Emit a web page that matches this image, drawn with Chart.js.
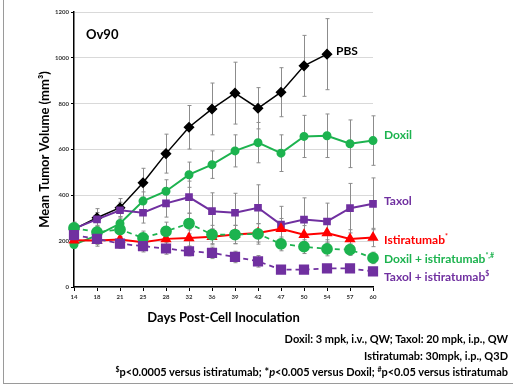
<!DOCTYPE html>
<html lang="en">
<head>
  <meta charset="UTF-8">
  <title>Ov90 tumor volume</title>
  <script src="https://cdn.jsdelivr.net/npm/chart.js"></script>
  <style>
    body { margin: 0; background: #fff; }
    .slide {
      position: relative;
      width: 513px;
      height: 386px;
      font-family: Lato, "Open Sans", sans-serif;
      font-weight: bold;
    }
    .frame {
      position: absolute;
      left: 3px; top: 0; width: 520px; height: 383px;
      border-left: 1px solid #9a9a9a;
      border-bottom: 1px solid #9a9a9a;
    }
    canvas { position: absolute; left: 0; top: 0; }
    .lbl { position: absolute; font-size: 12px; white-space: nowrap; line-height: 1; }
    .lbl sup { font-size: 7px; vertical-align: 5px; }
    .note {
      position: absolute; right: 5px; font-size: 11px; white-space: nowrap; line-height: 1;
    }
    .note sup { font-size: 7px; vertical-align: 4px; }
  </style>
</head>
<body>
  <div class="slide">
    <div class="frame"></div>
    <canvas id="tumorChart" width="513" height="386"></canvas>

    <div class="lbl" style="left:86px; top:28px; font-size:13px;">Ov90</div>
    <div class="lbl" style="left:336px; top:45px; color:#000;">PBS</div>
    <div class="lbl" style="left:384px; top:129px; color:#1db34f;">Doxil</div>
    <div class="lbl" style="left:384px; top:195px; color:#7030a0;">Taxol</div>
    <div class="lbl" style="left:384px; top:233px; color:#ff0000;">Istiratumab<sup>*</sup></div>
    <div class="lbl" style="left:384px; top:252px; color:#1db34f;">Doxil + istiratumab<sup>*,#</sup></div>
    <div class="lbl" style="left:384px; top:270px; color:#7030a0;">Taxol + istiratumab<sup>$</sup></div>

    <div class="note" style="top:333px;">Doxil: 3 mpk, i.v., QW; Taxol: 20 mpk, i.p., QW</div>
    <div class="note" style="top:350px;">Istiratumab: 30mpk, i.p., Q3D</div>
    <div class="note" style="top:366px;"><sup>$</sup>p&lt;0.0005 versus istiratumab; *<i>p</i>&lt;0.005 versus Doxil; <sup>#</sup>p&lt;0.05 versus istiratumab</div>
  </div>

  <script>
    // x categories (days) and y ticks
    const days = ['14', '18', '21', '25', '28', '32', '36', '39', '42', '47', '50', '54', '57', '60'];
    const yTicks = [0, 200, 400, 600, 800, 1000, 1200];

    // mean tumor volume (mm3) per group
    const pbs      = [252, 302, 346, 455, 582, 697, 777, 846, 780, 850, 965, 1016, null, null];
    const doxil    = [185, 225, 277, 375, 418, 490, 534, 594, 630, 584, 657, 660, 625, 639];
    const taxol    = [255, 295, 335, 324, 365, 392, 331, 324, 346, 272, 294, 286, 344, 363];
    const isti     = [204, 203, 207, 195, 210, 214, 219, 229, 236, 254, 228, 236, 210, 216];
    const doxIsti  = [258, 239, 251, 214, 243, 277, 229, 229, 232, 188, 176, 166, 163, 127];
    const taxIsti  = [226, 210, 189, 178, 168, 156, 149, 131, 112, 76, 76, 81, 81, 68];

    // error bars (+/-)
    const pbsErr     = [20, 40, 40, 63, 85, 95, 113, 135, 90, 107, 133, 155, null, null];
    const doxilErr   = [15, 20, 30, 40, 50, 55, 60, 70, 88, 80, 92, 95, 104, 108];
    const taxolErr   = [20, 30, 35, 45, 60, 70, 80, 85, 100, 80, 95, 80, 108, 113];
    const istiErr    = [15, 25, 30, 30, 30, 35, 35, 40, 40, 45, 40, 45, 40, 40];
    const doxIstiErr = [25, 30, 30, 30, 40, 45, 40, 40, 45, 30, 30, 30, 25, 25];
    const taxIstiErr = [20, 25, 20, 25, 25, 20, 25, 25, 25, 15, 15, 15, 15, 15];

    const GREEN = '#1db34f';
    const PURPLE = '#7030a0';

    // draws the gray error bars behind the lines
    const errorBars = {
      id: 'errorBars',
      beforeDatasetsDraw(chart) {
        const { ctx, scales: { x, y } } = chart;
        ctx.save();
        ctx.strokeStyle = '#8c8c8c';
        ctx.lineWidth = 1;
        chart.data.datasets.forEach(ds => {
          ds.data.forEach((v, i) => {
            const e = ds.errors[i];
            if (v == null || e == null) return;
            const px = Math.round(x.getPixelForValue(i)) + 0.5;
            const top = y.getPixelForValue(v + e);
            const bot = y.getPixelForValue(Math.max(v - e, 0));
            ctx.beginPath();
            ctx.moveTo(px, top); ctx.lineTo(px, bot);
            ctx.moveTo(px - 2, top); ctx.lineTo(px + 2, top);
            ctx.moveTo(px - 2, bot); ctx.lineTo(px + 2, bot);
            ctx.stroke();
          });
        });
        ctx.restore();
      }
    };

    const ctx = document.getElementById('tumorChart').getContext('2d');
    new Chart(ctx, {
      type: 'line',
      data: {
        labels: days,
        datasets: [
          {
            label: 'Taxol + istiratumab', data: taxIsti, errors: taxIstiErr,
            borderColor: PURPLE, backgroundColor: PURPLE, borderWidth: 1.75, borderDash: [5, 4],
            pointStyle: 'rect', pointRadius: 6
          },
          {
            label: 'Doxil + istiratumab', data: doxIsti, errors: doxIstiErr,
            borderColor: GREEN, backgroundColor: GREEN, borderWidth: 1.75, borderDash: [5, 4],
            pointStyle: 'circle', pointRadius: 5
          },
          {
            label: 'Istiratumab', data: isti, errors: istiErr,
            borderColor: '#ff0000', backgroundColor: '#ff0000', borderWidth: 2,
            pointStyle: 'triangle', pointRadius: 4.5
          },
          {
            label: 'Taxol', data: taxol, errors: taxolErr,
            borderColor: PURPLE, backgroundColor: PURPLE, borderWidth: 2,
            pointStyle: 'rect', pointRadius: 4
          },
          {
            label: 'Doxil', data: doxil, errors: doxilErr,
            borderColor: GREEN, backgroundColor: GREEN, borderWidth: 2,
            pointStyle: 'circle', pointRadius: 3.5
          },
          {
            label: 'PBS', data: pbs, errors: pbsErr,
            borderColor: '#000', backgroundColor: '#000', borderWidth: 1.5,
            pointStyle: 'rectRot', pointRadius: 4.5
          }
        ]
      },
      options: {
        responsive: false,
        animation: false,
        events: [],
        layout: { padding: { left: 37, right: 140, top: 12, bottom: 0 } },
        plugins: {
          legend: { display: false },
          tooltip: { enabled: false }
        },
        elements: { line: { tension: 0 }, point: { borderWidth: 0 } },
        scales: {
          x: {
            offset: false,
            afterFit: s => { s.height = 99; },
            grid: { drawOnChartArea: false, drawTicks: true, tickLength: 4, tickColor: '#000' },
            border: { color: '#000', width: 1.5 },
            ticks: { font: { family: 'Lato', size: 6, weight: 'bold' }, color: '#333', padding: 2, maxRotation: 0 },
            title: {
              display: true, text: 'Days Post-Cell Inoculation',
              font: { family: 'Lato', size: 13, weight: 'bold' }, color: '#000',
              padding: { top: 0, bottom: 60 }
            }
          },
          y: {
            min: 0, max: 1200,
            afterBuildTicks: s => { s.ticks = yTicks.map(v => ({ value: v })); },
            afterFit: s => { s.width = 37; },
            grid: { color: '#d9d9d9', lineWidth: 1, tickLength: 3, tickColor: '#000' },
            border: { color: '#000', width: 1.5 },
            ticks: {
              font: { family: 'Lato', size: 6, weight: 'bold' }, color: '#333', padding: 2,
              callback: v => String(v)
            },
            title: {
              display: true, text: 'Mean Tumor Volume (mm³)',
              font: { family: 'Lato', size: 13, weight: 'bold' }, color: '#000',
              padding: { top: 0, bottom: 0 }
            }
          }
        }
      },
      plugins: [errorBars]
    });
  </script>
</body>
</html>
